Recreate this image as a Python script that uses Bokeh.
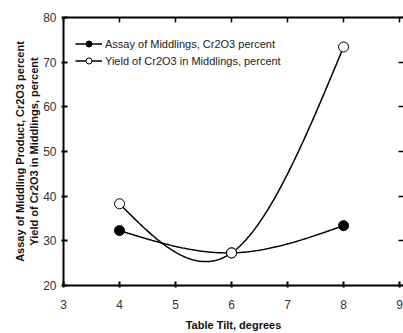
import numpy as np
from bokeh.plotting import figure
from bokeh.models import Range1d, LinearAxis, FixedTicker, Legend, LegendItem
from bokeh.embed import file_html
from bokeh.resources import INLINE

# data
tilt = [4, 6, 8]
assay = [32.3, 27.3, 33.4]
yield_ = [38.3, 27.3, 73.4]
x_ticks = [3, 4, 5, 6, 7, 8, 9]
y_ticks = [20, 30, 40, 50, 60, 70, 80]


def natural_spline(x, y, n=200):
    x = np.asarray(x, float)
    y = np.asarray(y, float)
    k = len(x)
    h = np.diff(x)
    A = np.zeros((k, k))
    b = np.zeros(k)
    A[0, 0] = 1
    A[-1, -1] = 1
    for i in range(1, k - 1):
        A[i, i - 1] = h[i - 1]
        A[i, i] = 2 * (h[i - 1] + h[i])
        A[i, i + 1] = h[i]
        b[i] = 6 * ((y[i + 1] - y[i]) / h[i] - (y[i] - y[i - 1]) / h[i - 1])
    M = np.linalg.solve(A, b)
    xs = np.linspace(x[0], x[-1], n)
    ys = np.empty_like(xs)
    for j, t in enumerate(xs):
        i = min(np.searchsorted(x, t, side="right") - 1, k - 2)
        hi = h[i]
        a = x[i + 1] - t
        c = t - x[i]
        ys[j] = (M[i] * a ** 3 + M[i + 1] * c ** 3) / (6 * hi) \
            + (y[i] / hi - M[i] * hi / 6) * a + (y[i + 1] / hi - M[i + 1] * hi / 6) * c
    return xs, ys


p = figure(width=403, height=333, output_backend="svg", toolbar_location=None,
           x_range=Range1d(3, 9.07), y_range=Range1d(20, 80),
           min_border_left=63, min_border_right=0, min_border_top=17, min_border_bottom=46)
p.grid.visible = False
p.outline_line_color = None

FONT = "Liberation Sans"
for ax in [p.xaxis[0], p.yaxis[0]]:
    ax.axis_line_width = 2
    ax.axis_line_color = "black"
    ax.major_tick_in = 4
    ax.major_tick_out = 2
    ax.major_tick_line_width = 2
    ax.minor_tick_line_color = None
    ax.major_label_text_font = FONT
    ax.major_label_text_font_size = "12px"
    ax.major_label_text_color = "#333333"
    ax.axis_label_text_font = FONT
    ax.axis_label_text_font_size = "11px"
    ax.axis_label_text_font_style = "bold"
    ax.axis_label_text_color = "#111111"

p.xaxis[0].ticker = FixedTicker(ticks=x_ticks)
p.yaxis[0].ticker = FixedTicker(ticks=y_ticks)
p.xaxis[0].axis_label = "Table Tilt, degrees"
p.xaxis[0].major_label_standoff = 12
p.xaxis[0].axis_label_standoff = 7
p.yaxis[0].axis_label = "Assay of Middling Product, Cr2O3 percent\nYield of Cr2O3 in Middlings, percent"
p.yaxis[0].axis_label_standoff = 0

for loc, ticks in [("above", x_ticks), ("right", y_ticks)]:
    ax = LinearAxis(ticker=FixedTicker(ticks=ticks), axis_line_width=2, axis_line_color="black",
                    major_tick_in=5, major_tick_out=0, major_tick_line_width=1.5,
                    minor_tick_line_color=None,
                    major_label_overrides={t: "" for t in ticks},
                    major_label_standoff=0)
    if loc == "right":
        ax.axis_line_color = None
    p.add_layout(ax, loc)

xa, ya = natural_spline(tilt, assay)
xy, yy = natural_spline(tilt, yield_)

l1 = p.line(xa, ya, line_color="black", line_width=1.5)
l2 = p.line(xy, yy, line_color="black", line_width=1.5)
s1 = p.scatter(tilt, assay, size=10, fill_color="black", line_color="black")
s2 = p.scatter(tilt, yield_, size=10, fill_color="white", line_color="black", line_width=1)

legend = Legend(items=[
    LegendItem(label="Assay of Middlings, Cr2O3 percent", renderers=[l1, s1]),
    LegendItem(label="Yield of Cr2O3 in Middlings, percent", renderers=[l2, s2]),
], location=(12, 217), margin=0, padding=0, spacing=2, glyph_height=15, label_height=15,
   glyph_width=27, label_standoff=3, background_fill_alpha=0, border_line_color=None,
   label_text_font=FONT, label_text_font_size="11px", label_text_color="#222222")
p.add_layout(legend, "center")

open("out.html", "w").write(file_html(p, INLINE))
